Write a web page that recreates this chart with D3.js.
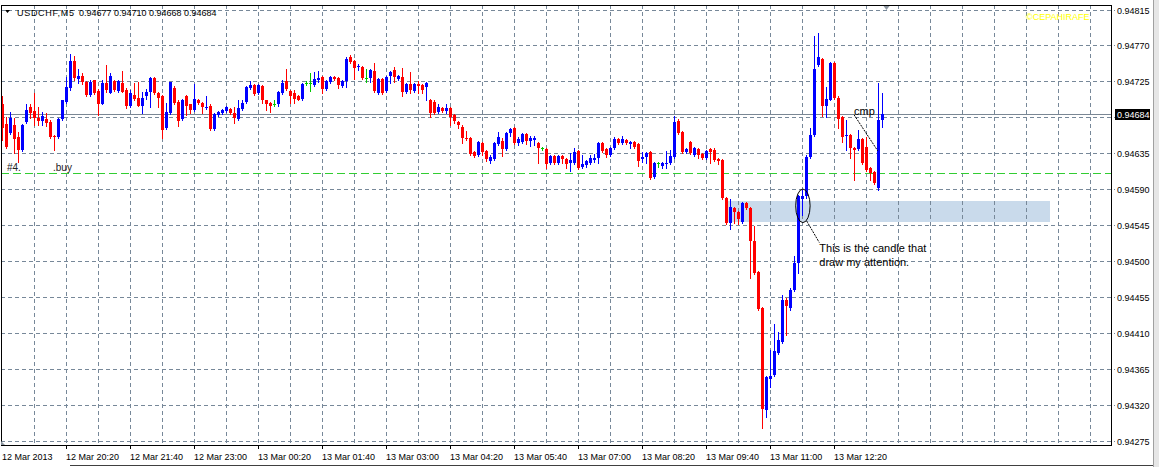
<!DOCTYPE html>
<html><head><meta charset="utf-8">
<script src="https://cdn.jsdelivr.net/npm/d3@7"></script>
<style>body{margin:0;background:#fff;}svg{display:block}</style>
</head><body>
<script>
// ---------- data ----------
const symbolTitle = "USDCHF,M5";
const lastBarValues = ["0.94677", "0.94710", "0.94668", "0.94684"];
const timeLabels = ["12 Mar 2013","12 Mar 20:20","12 Mar 21:40","12 Mar 23:00","13 Mar 00:20","13 Mar 01:40","13 Mar 03:00","13 Mar 04:20","13 Mar 05:40","13 Mar 07:00","13 Mar 08:20","13 Mar 09:40","13 Mar 11:00","13 Mar 12:20"];
const timeLabelBars = [0,16,32,48,64,80,96,112,128,144,160,176,192,208];
const priceTicks = [0.94815,0.94770,0.94725,0.94680,0.94635,0.94590,0.94545,0.94500,0.94455,0.94410,0.94365,0.94320,0.94275];
const bidPrice = 0.94684;
const orderPrice = 0.94610;
const zoneBars = [181.4, 261.9];
const zonePrices = [0.94575, 0.94549];
const ellipseBars = [198.3, 201.9];
const ellipsePrices = [0.94590, 0.94548];
const noteLine = [[201.05, 0.94550], [204.2, 0.94523]];
const noteText = ["This is the candle that", "draw my attention."];
const cmpLine = [[212.9, 0.94683], [218.8, 0.94638]];
const cmpText = "cmp";
const watermark = "\u00A9CEPAHIRAFE";

const opens = [0.94696,0.94672,0.94660,0.94670,0.94655,0.94639,0.94674,0.94693,0.94688,0.94679,
0.94675,0.94678,0.94674,0.94657,0.94655,0.94678,0.94699,0.94717,0.94751,0.94728,
0.94732,0.94724,0.94708,0.94727,0.94713,0.94696,0.94723,0.94711,0.94726,0.94713,
0.94723,0.94714,0.94694,0.94708,0.94704,0.94694,0.94706,0.94712,0.94729,0.94711,
0.94707,0.94667,0.94685,0.94717,0.94699,0.94678,0.94706,0.94696,0.94689,0.94702,
0.94698,0.94692,0.94694,0.94665,0.94683,0.94685,0.94688,0.94690,0.94685,0.94678,
0.94690,0.94699,0.94717,0.94721,0.94711,0.94719,0.94701,0.94698,0.94696,0.94696,
0.94711,0.94726,0.94713,0.94711,0.94707,0.94703,0.94723,0.94723,0.94721,0.94727,
0.94731,0.94716,0.94724,0.94731,0.94729,0.94719,0.94726,0.94756,0.94751,0.94743,
0.94743,0.94729,0.94729,0.94738,0.94711,0.94728,0.94713,0.94732,0.94739,0.94728,
0.94731,0.94712,0.94722,0.94713,0.94722,0.94721,0.94718,0.94702,0.94699,0.94687,
0.94692,0.94688,0.94692,0.94683,0.94674,0.94668,0.94654,0.94654,0.94637,0.94633,
0.94648,0.94638,0.94625,0.94628,0.94647,0.94650,0.94640,0.94660,0.94667,0.94648,
0.94649,0.94659,0.94650,0.94652,0.94648,0.94642,0.94640,0.94623,0.94632,0.94623,
0.94632,0.94628,0.94623,0.94623,0.94638,0.94618,0.94620,0.94623,0.94627,0.94629,
0.94648,0.94640,0.94633,0.94642,0.94653,0.94648,0.94652,0.94647,0.94649,0.94647,
0.94628,0.94630,0.94637,0.94605,0.94623,0.94619,0.94622,0.94623,0.94630,0.94675,
0.94662,0.94637,0.94649,0.94633,0.94640,0.94634,0.94629,0.94640,0.94639,0.94628,
0.94627,0.94579,0.94548,0.94566,0.94561,0.94549,0.94573,0.94566,0.94525,0.94486,
0.94441,0.94313,0.94352,0.94357,0.94385,0.94398,0.94451,0.94441,0.94464,0.94497,
0.94578,0.94581,0.94630,0.94658,0.94746,0.94753,0.94694,0.94702,0.94748,0.94704,
0.94680,0.94657,0.94658,0.94642,0.94640,0.94653,0.94643,0.94617,0.94612,0.94591,
0.94677];
const highs = [0.94707,0.94680,0.94687,0.94679,0.94662,0.94672,0.94696,0.94696,0.94711,0.94693,
0.94687,0.94685,0.94677,0.94658,0.94679,0.94702,0.94731,0.94759,0.94757,0.94741,
0.94736,0.94726,0.94727,0.94727,0.94716,0.94727,0.94746,0.94736,0.94727,0.94727,
0.94738,0.94717,0.94714,0.94723,0.94724,0.94712,0.94716,0.94731,0.94731,0.94712,
0.94708,0.94698,0.94724,0.94719,0.94701,0.94703,0.94708,0.94697,0.94722,0.94703,
0.94699,0.94706,0.94696,0.94685,0.94688,0.94690,0.94694,0.94692,0.94693,0.94702,
0.94702,0.94719,0.94726,0.94722,0.94722,0.94721,0.94702,0.94699,0.94702,0.94713,
0.94727,0.94741,0.94714,0.94714,0.94708,0.94723,0.94726,0.94736,0.94737,0.94738,
0.94732,0.94727,0.94732,0.94732,0.94731,0.94727,0.94756,0.94758,0.94752,0.94747,
0.94744,0.94741,0.94741,0.94748,0.94729,0.94729,0.94732,0.94738,0.94743,0.94733,
0.94742,0.94723,0.94737,0.94723,0.94726,0.94722,0.94724,0.94703,0.94702,0.94696,
0.94693,0.94697,0.94693,0.94684,0.94675,0.94670,0.94663,0.94655,0.94638,0.94650,
0.94649,0.94639,0.94633,0.94649,0.94662,0.94654,0.94662,0.94667,0.94668,0.94655,
0.94660,0.94660,0.94657,0.94657,0.94649,0.94643,0.94642,0.94633,0.94633,0.94633,
0.94633,0.94629,0.94635,0.94642,0.94639,0.94633,0.94627,0.94633,0.94634,0.94649,
0.94649,0.94642,0.94643,0.94655,0.94654,0.94657,0.94653,0.94650,0.94650,0.94648,
0.94637,0.94637,0.94638,0.94624,0.94624,0.94624,0.94638,0.94639,0.94682,0.94678,
0.94663,0.94642,0.94650,0.94643,0.94642,0.94635,0.94639,0.94642,0.94642,0.94629,
0.94628,0.94580,0.94578,0.94568,0.94563,0.94574,0.94574,0.94568,0.94544,0.94487,
0.94442,0.94356,0.94388,0.94421,0.94411,0.94457,0.94454,0.94466,0.94506,0.94583,
0.94589,0.94633,0.94667,0.94782,0.94786,0.94754,0.94718,0.94749,0.94749,0.94706,
0.94682,0.94677,0.94659,0.94643,0.94664,0.94654,0.94655,0.94618,0.94613,0.94723,
0.94710];
const lows = [0.94652,0.94642,0.94659,0.94635,0.94624,0.94638,0.94673,0.94679,0.94670,0.94670,
0.94670,0.94669,0.94654,0.94639,0.94654,0.94677,0.94698,0.94714,0.94727,0.94723,
0.94722,0.94706,0.94707,0.94709,0.94683,0.94696,0.94712,0.94711,0.94713,0.94712,
0.94712,0.94692,0.94693,0.94701,0.94694,0.94685,0.94703,0.94693,0.94709,0.94693,
0.94654,0.94665,0.94684,0.94697,0.94669,0.94677,0.94683,0.94685,0.94688,0.94697,
0.94685,0.94690,0.94664,0.94664,0.94682,0.94684,0.94687,0.94684,0.94673,0.94677,
0.94689,0.94698,0.94716,0.94708,0.94709,0.94698,0.94689,0.94687,0.94694,0.94694,
0.94709,0.94714,0.94698,0.94698,0.94701,0.94702,0.94721,0.94713,0.94719,0.94724,
0.94711,0.94714,0.94723,0.94727,0.94717,0.94718,0.94718,0.94748,0.94728,0.94739,
0.94728,0.94724,0.94724,0.94712,0.94709,0.94709,0.94712,0.94723,0.94724,0.94727,
0.94706,0.94711,0.94711,0.94712,0.94711,0.94711,0.94701,0.94680,0.94684,0.94685,
0.94687,0.94685,0.94670,0.94673,0.94667,0.94648,0.94652,0.94633,0.94630,0.94632,
0.94633,0.94625,0.94623,0.94627,0.94645,0.94632,0.94639,0.94657,0.94647,0.94645,
0.94648,0.94647,0.94644,0.94645,0.94623,0.94639,0.94617,0.94622,0.94622,0.94622,
0.94623,0.94617,0.94613,0.94622,0.94615,0.94617,0.94618,0.94622,0.94624,0.94623,
0.94637,0.94630,0.94632,0.94640,0.94647,0.94647,0.94647,0.94642,0.94642,0.94619,
0.94624,0.94623,0.94603,0.94604,0.94618,0.94617,0.94617,0.94622,0.94629,0.94659,
0.94635,0.94635,0.94634,0.94632,0.94629,0.94628,0.94628,0.94623,0.94625,0.94622,
0.94578,0.94546,0.94540,0.94548,0.94546,0.94548,0.94565,0.94479,0.94484,0.94439,
0.94291,0.94305,0.94342,0.94356,0.94384,0.94397,0.94407,0.94439,0.94462,0.94485,
0.94558,0.94579,0.94629,0.94657,0.94744,0.94682,0.94680,0.94701,0.94703,0.94667,
0.94649,0.94639,0.94629,0.94601,0.94639,0.94622,0.94613,0.94601,0.94596,0.94589,
0.94668];
const closes = [0.94667,0.94643,0.94679,0.94653,0.94639,0.94670,0.94689,0.94685,0.94679,0.94675,
0.94682,0.94673,0.94655,0.94655,0.94678,0.94701,0.94718,0.94751,0.94729,0.94732,
0.94724,0.94708,0.94724,0.94711,0.94696,0.94723,0.94714,0.94732,0.94714,0.94726,
0.94712,0.94694,0.94711,0.94703,0.94694,0.94704,0.94712,0.94729,0.94711,0.94704,
0.94664,0.94687,0.94724,0.94698,0.94675,0.94702,0.94694,0.94689,0.94703,0.94698,
0.94693,0.94693,0.94665,0.94684,0.94687,0.94689,0.94693,0.94685,0.94679,0.94692,
0.94698,0.94718,0.94721,0.94709,0.94721,0.94702,0.94696,0.94694,0.94696,0.94712,
0.94723,0.94716,0.94706,0.94703,0.94702,0.94722,0.94723,0.94723,0.94728,0.94729,
0.94716,0.94726,0.94731,0.94728,0.94721,0.94726,0.94753,0.94749,0.94742,0.94744,
0.94729,0.94729,0.94739,0.94713,0.94728,0.94711,0.94731,0.94737,0.94731,0.94732,
0.94712,0.94722,0.94714,0.94722,0.94719,0.94714,0.94723,0.94685,0.94685,0.94693,
0.94688,0.94692,0.94680,0.94675,0.94670,0.94654,0.94653,0.94634,0.94632,0.94649,
0.94637,0.94628,0.94630,0.94648,0.94655,0.94640,0.94660,0.94665,0.94648,0.94653,
0.94659,0.94650,0.94654,0.94654,0.94642,0.94642,0.94622,0.94632,0.94623,0.94632,
0.94628,0.94622,0.94627,0.94637,0.94617,0.94622,0.94625,0.94629,0.94629,0.94648,
0.94638,0.94633,0.94642,0.94653,0.94648,0.94653,0.94648,0.94649,0.94643,0.94625,
0.94630,0.94635,0.94604,0.94623,0.94623,0.94623,0.94623,0.94632,0.94674,0.94660,
0.94637,0.94640,0.94635,0.94642,0.94633,0.94629,0.94638,0.94637,0.94627,0.94625,
0.94579,0.94548,0.94568,0.94561,0.94553,0.94573,0.94566,0.94525,0.94485,0.94440,
0.94315,0.94355,0.94356,0.94387,0.94401,0.94451,0.94444,0.94464,0.94497,0.94581,
0.94581,0.94630,0.94658,0.94741,0.94756,0.94694,0.94703,0.94748,0.94704,0.94678,
0.94655,0.94658,0.94642,0.94639,0.94653,0.94623,0.94614,0.94610,0.94598,0.94677,
0.94684];

// ---------- layout ----------
const W = 1159, H = 467;
const plot = {l: 1, r: 1111, t: 5, b: 445};
const FONT = "Tahoma, 'Liberation Sans', Arial, sans-serif";
const GRID = "#778899";

const svg = d3.select("body").append("svg")
  .attr("width", W).attr("height", H)
  .style("font-family", FONT);

svg.append("rect").attr("width", W).attr("height", H).attr("fill", "#fff");

const n = opens.length;
const x = d3.scaleLinear().domain([0, n - 1]).range([2.5, 2.5 + 4 * (n - 1)]);
const y = d3.scaleLinear()
  .domain([priceTicks[priceTicks.length - 1], priceTicks[0]])
  .range([440.5, 9.5]);
const py = p => Math.round(y(p)) + 0.5;

// zone rectangle (background object)
svg.append("rect")
  .attr("x", Math.round(x(zoneBars[0])))
  .attr("y", Math.round(y(zonePrices[0])))
  .attr("width", Math.round(x(zoneBars[1])) - Math.round(x(zoneBars[0])))
  .attr("height", Math.round(y(zonePrices[1])) - Math.round(y(zonePrices[0])))
  .attr("fill", "#c9daeb");

// grid
const gridG = svg.append("g").attr("shape-rendering", "crispEdges");
priceTicks.forEach(p => {
  gridG.append("line")
    .attr("x1", plot.l).attr("x2", plot.r + 4)
    .attr("y1", py(p)).attr("y2", py(p))
    .attr("stroke", GRID).attr("stroke-dasharray", "4,3");
});
for (let k = 8; x(k) < plot.r; k += 8) {
  gridG.append("line")
    .attr("x1", x(k)).attr("x2", x(k))
    .attr("y1", plot.t).attr("y2", plot.b)
    .attr("stroke", GRID).attr("stroke-dasharray", "4,3");
}

// order line (#4 buy)
svg.append("line")
  .attr("x1", plot.l).attr("x2", plot.r)
  .attr("y1", py(orderPrice)).attr("y2", py(orderPrice))
  .attr("stroke", "#32cd32").attr("stroke-dasharray", "8,4")
  .attr("shape-rendering", "crispEdges");
svg.append("text").attr("x", 7).attr("y", py(orderPrice) - 3)
  .attr("font-size", 10).attr("fill", "#222").text("#4.");
svg.append("text").attr("x", 53).attr("y", py(orderPrice) - 3)
  .attr("font-size", 10).attr("fill", "#222").text(".buy");

// bid line
svg.append("line")
  .attr("x1", plot.l).attr("x2", plot.r)
  .attr("y1", py(bidPrice)).attr("y2", py(bidPrice))
  .attr("stroke", "#7a8794").attr("shape-rendering", "crispEdges");

// candles
const bars = d3.range(n).map(i => ({i, o: opens[i], h: highs[i], l: lows[i], c: closes[i]}));
const colorOf = d => d.c > d.o ? "#0000ff" : (d.c < d.o ? "#ff0000" : "#00c800");
const cg = svg.append("g").attr("shape-rendering", "crispEdges");
cg.selectAll("line.wick").data(bars).join("line").attr("class", "wick")
  .attr("x1", d => x(d.i)).attr("x2", d => x(d.i))
  .attr("y1", d => Math.round(y(d.h))).attr("y2", d => Math.round(y(d.l)) + 1)
  .attr("stroke", colorOf);
cg.selectAll("rect.body").data(bars).join("rect").attr("class", "body")
  .attr("x", d => x(d.i) - 1.5)
  .attr("width", 3)
  .attr("y", d => Math.round(y(Math.max(d.o, d.c))))
  .attr("height", d => Math.max(1, Math.round(y(Math.min(d.o, d.c))) - Math.round(y(Math.max(d.o, d.c)))))
  .attr("fill", colorOf);

// ellipse + note
const ex0 = x(ellipseBars[0]), ex1 = x(ellipseBars[1]);
const ey0 = y(ellipsePrices[0]), ey1 = y(ellipsePrices[1]);
svg.append("ellipse")
  .attr("cx", (ex0 + ex1) / 2).attr("cy", (ey0 + ey1) / 2)
  .attr("rx", (ex1 - ex0) / 2).attr("ry", (ey1 - ey0) / 2)
  .attr("fill", "none").attr("stroke", "#000").attr("stroke-width", 1);
svg.append("line")
  .attr("x1", x(noteLine[0][0])).attr("y1", y(noteLine[0][1]))
  .attr("x2", x(noteLine[1][0])).attr("y2", y(noteLine[1][1]))
  .attr("stroke", "#000").attr("stroke-dasharray", "2,1");
noteText.forEach((t, k) => {
  svg.append("text")
    .attr("x", x(noteLine[1][0])).attr("y", y(noteLine[1][1]) + 9.5 + 14 * k)
    .attr("font-size", 11).attr("fill", "#000").text(t);
});

// cmp trend line
svg.append("line")
  .attr("x1", x(cmpLine[0][0])).attr("y1", y(cmpLine[0][1]))
  .attr("x2", x(cmpLine[1][0])).attr("y2", y(cmpLine[1][1]))
  .attr("stroke", "#000").attr("stroke-dasharray", "2,1");
svg.append("text").attr("x", x(cmpLine[0][0])).attr("y", y(cmpLine[0][1]) + 0.5)
  .attr("font-size", 11).attr("fill", "#000").text(cmpText);

// frame
svg.append("rect")
  .attr("x", plot.l + 0.5).attr("y", plot.t + 0.5)
  .attr("width", plot.r - plot.l).attr("height", plot.b - plot.t)
  .attr("fill", "none").attr("stroke", "#000").attr("shape-rendering", "crispEdges");

// price axis labels
const ax = svg.append("g").attr("font-size", 9).attr("fill", "#000");
priceTicks.forEach(p => {
  if (Math.abs(p - bidPrice) < 0.0001) return;
  ax.append("text").attr("x", plot.r + 6).attr("y", py(p) + 3.5).text(d3.format(".5f")(p));
});
svg.append("rect").attr("x", plot.r + 4).attr("y", py(bidPrice) - 5.5)
  .attr("width", 35).attr("height", 11).attr("fill", "#000");
svg.append("text").attr("x", plot.r + 6).attr("y", py(bidPrice) + 3.5)
  .attr("font-size", 9).attr("fill", "#fff").text(d3.format(".5f")(bidPrice));

// time axis
const tx = svg.append("g").attr("font-size", 9).attr("fill", "#000");
timeLabels.forEach((t, k) => {
  const xx = x(timeLabelBars[k]);
  if (k > 0) {
    tx.append("line").attr("x1", xx).attr("x2", xx).attr("y1", plot.b).attr("y2", plot.b + 4)
      .attr("stroke", "#000").attr("shape-rendering", "crispEdges");
  }
  tx.append("text").attr("x", xx - 0.5).attr("y", 460).text(t);
});

// header
svg.append("path").attr("d", "M5,10 L10,10 L7.5,13 Z").attr("fill", "#000");
const hg = svg.append("g").attr("font-size", 9).attr("fill", "#000");
hg.append("text").attr("x", 17).attr("y", 16).attr("textLength", 57).attr("lengthAdjust", "spacing").text(symbolTitle);
[79, 114, 149, 184].forEach((xx, k) => hg.append("text").attr("x", xx).attr("y", 16).text(lastBarValues[k]));

// watermark
svg.append("text").attr("x", 1026).attr("y", 20).attr("font-size", 9)
  .attr("fill", "#ffff00").text(watermark);

// shift marker and misc chrome
svg.append("path").attr("d", `M${x(n - 1) + 1},6 L${x(n - 1) + 7},6 L${x(n - 1) + 4},10 Z`).attr("fill", "#8c96a0");
svg.append("path").attr("d", "M1,441 L5,445 L1,445 Z").attr("fill", "#8c96a0");
svg.append("rect").attr("x", 1153).attr("y", 0).attr("width", 6).attr("height", H).attr("fill", "#e6e6e6");
svg.append("line").attr("x1", 1153.5).attr("x2", 1153.5).attr("y1", 0).attr("y2", H).attr("stroke", "#a0a0a0");
svg.append("line").attr("x1", 70).attr("x2", 1153).attr("y1", 465.5).attr("y2", 465.5).attr("stroke", "#404040");
</script>
</body></html>
